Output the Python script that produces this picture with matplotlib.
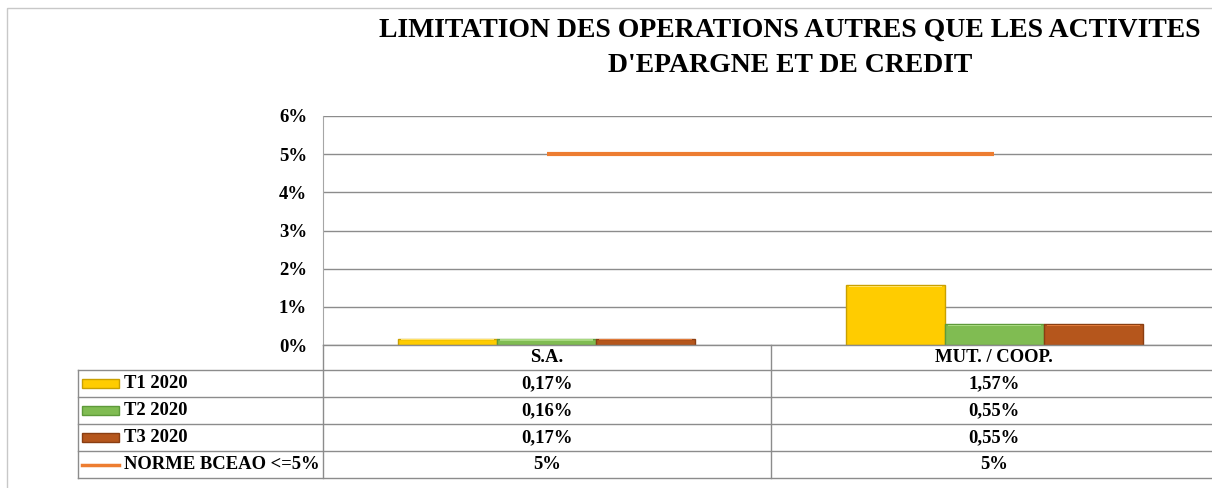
import numpy as np
import matplotlib.pyplot as plt
from matplotlib.patches import Rectangle
from matplotlib.lines import Line2D
import matplotlib.transforms as mtrans

# data
categories = ['S.A.', 'MUT. / COOP.']
series = ['T1 2020', 'T2 2020', 'T3 2020']
t1 = [0.17, 1.57]
t2 = [0.16, 0.55]
t3 = [0.17, 0.55]
norme = [5, 5]
norme_label = 'NORME BCEAO <=5%'
t1_txt = ['0,17%', '1,57%']
t2_txt = ['0,16%', '0,55%']
t3_txt = ['0,17%', '0,55%']
norme_txt = ['5%', '5%']
yticks = [0, 1, 2, 3, 4, 5, 6]

W, H = 1212, 488
FONT = 'Liberation Serif'
face = ['#FFCC00', '#80BC52', '#B5561C']
edge = ['#C9A000', '#5E9A3A', '#8A3E12']
light = ['#FFE066', '#A8D880', '#E07A3A']
orange = '#ED7D31'
grid = '#8C8C8C'

def fx(x):
  return x / W

def fy(y):
  return 1 - y / H

fig = plt.figure(figsize=(W / 100, H / 100), dpi=100)
# pixel transform (top-left origin)
px = mtrans.Affine2D().scale(1 / W, -1 / H).translate(0, 1) + fig.transFigure

# outer chart border
fig.add_artist(Rectangle((7, 8), 3000, 3000, fill=False, edgecolor='#C8C8C8', lw=1, transform=px))

# title
fig.text(fx(790), fy(30), 'LIMITATION DES OPERATIONS AUTRES QUE LES ACTIVITES', ha='center', va='center',
         fontsize=20, fontweight='bold', family=FONT)
fig.text(fx(790), fy(65), "D'EPARGNE ET DE CREDIT", ha='center', va='center',
         fontsize=20, fontweight='bold', family=FONT)

# plot area
left, right, top, bottom = 323, 1218, 116, 345
ax = fig.add_axes([fx(left), fy(bottom), fx(right - left), (bottom - top) / H])
ax.set_xlim(-0.5, 1.5)
ax.set_ylim(0, 6)
x = np.arange(len(categories))
bw = 0.221
for i, vals in enumerate([t1, t2, t3]):
  ax.bar(x + (i - 1) * bw, vals, width=bw, color=face[i], edgecolor=edge[i], lw=1, zorder=3)
  # thin highlight on top of each bar to mimic the bevel
  ax.bar(x + (i - 1) * bw, [0.035] * len(vals), bottom=np.array(vals) - 0.05, width=bw * 0.94,
         color=light[i], lw=0, zorder=4)
ax.plot(x, norme, color=orange, lw=3, zorder=5, solid_capstyle='butt')
ax.set_yticks(yticks)
ax.set_yticklabels([f'{v}%' for v in yticks], fontsize=13.5, fontweight='bold', family=FONT)
ax.tick_params(axis='y', length=0, pad=11.5)
ax.set_xticks([])
ax.grid(axis='y', color=grid, lw=1, zorder=0)
for s in ['top', 'right', 'bottom']:
  ax.spines[s].set_visible(False)
ax.spines['left'].set_color('#A6A6A6')
ax.patch.set_alpha(0)

# data table below the plot
bt = mtrans.blended_transform_factory(ax.transData, px)
rows_y = [345, 370, 397, 424, 451, 478]
tl = 78
for y in rows_y[1:]:
  fig.add_artist(Line2D([tl, 1300], [y, y], color=grid, lw=1, transform=px))
fig.add_artist(Line2D([left, 1300], [345, 345], color=grid, lw=1, transform=px))
fig.add_artist(Line2D([tl, tl], [370, 478], color=grid, lw=1, transform=px))
fig.add_artist(Line2D([left, left], [345, 478], color=grid, lw=1, transform=px))
for b in x[:-1] + 0.5:
  fig.add_artist(Line2D([b, b], [345, 478], color=grid, lw=1, transform=bt))

tfont = dict(fontsize=13.4, fontweight='bold', family=FONT)
for i, c in enumerate(categories):
  fig.text(i, 358, c, ha='center', va='center', transform=bt, **tfont)
row_text = [t1_txt, t2_txt, t3_txt, norme_txt]
for r, txts in enumerate(row_text):
  yc = (rows_y[r + 1] + rows_y[r + 2]) / 2
  for i, t in enumerate(txts):
    fig.text(i, yc, t, ha='center', va='center', transform=bt, **tfont)

labels = series + [norme_label]
for r, lab in enumerate(labels):
  yc = (rows_y[r + 1] + rows_y[r + 2]) / 2
  if r < 3:
    fig.add_artist(Rectangle((82, yc - 5), 37, 9, facecolor=face[r], edgecolor=edge[r], lw=1, transform=px))
  else:
    fig.add_artist(Line2D([82, 119], [yc, yc], color=orange, lw=2.5, transform=px))
  fig.text(fx(124), fy(yc), lab, ha='left', va='center', **tfont)

fig.savefig('out.png', dpi=100)
